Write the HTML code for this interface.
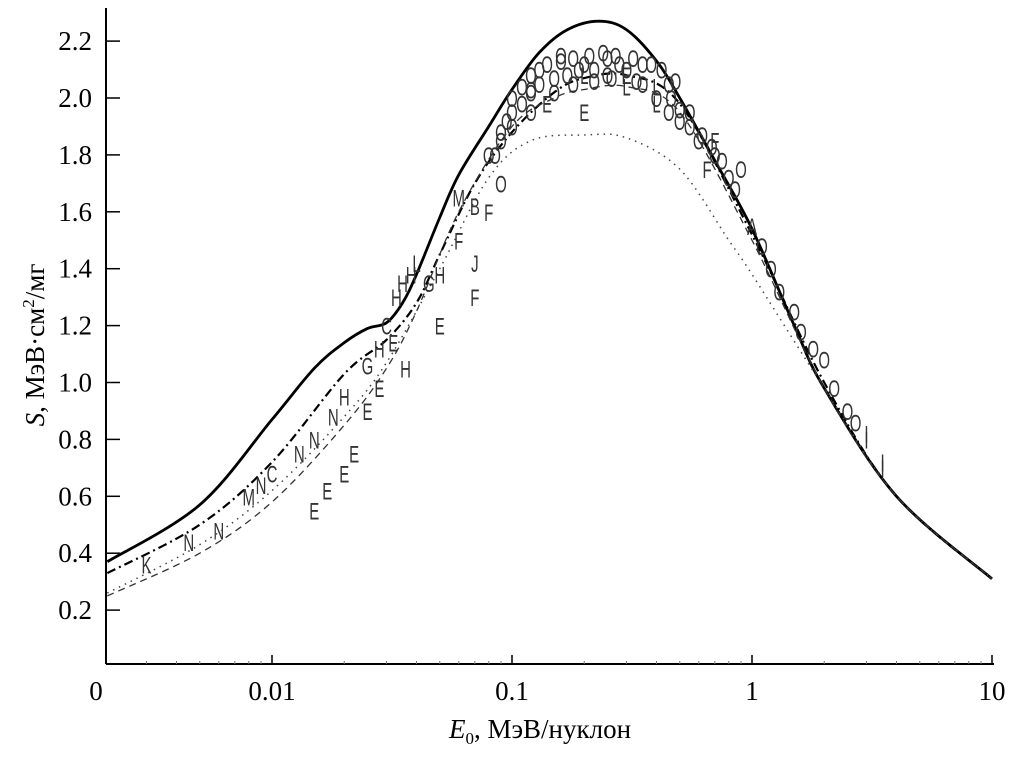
<!DOCTYPE html>
<html><head><meta charset="utf-8"><style>
body{margin:0;background:#fff}
svg{display:block;font-family:"Liberation Serif","DejaVu Serif",serif}
</style></head><body>
<svg id="c" width="1012" height="763" viewBox="0 0 1012 763">
<g id="axes"></g>
<g id="series"></g>
<g id="pts"></g>
<text x="540" y="738" font-size="27" text-anchor="middle"><tspan font-style="italic">E</tspan><tspan font-size="17" dy="6">0</tspan><tspan dy="-6">, МэВ/нуклон</tspan></text>
<text transform="translate(44,345) rotate(-90)" font-size="27" text-anchor="middle"><tspan font-style="italic">S</tspan>, МэВ·см<tspan font-size="17" dy="-10">2</tspan><tspan dy="10">/мг</tspan></text>
</svg>
<script>
const xTicks=[0.00206,0.01,0.1,1,10];
const xTickLabels=["0","0.01","0.1","1","10"];
const yTicks=[0.2,0.4,0.6,0.8,1.0,1.2,1.4,1.6,1.8,2.0,2.2];
const solidE=[0.00206,0.005,0.01,0.015,0.02,0.025,0.03,0.035,0.04,0.05,0.06,0.08,0.1,0.13,0.17,0.23,0.3,0.4,0.5,0.7,1,1.5,2,4,10];
const solidS=[0.37,0.57,0.87,1.05,1.14,1.19,1.21,1.28,1.38,1.58,1.73,1.9,2.03,2.16,2.24,2.27,2.24,2.13,2.0,1.78,1.54,1.2,0.98,0.6,0.31];
const dashDotE=[0.00206,0.005,0.01,0.02,0.03,0.04,0.05,0.07,0.1,0.15,0.2,0.3,0.5,1,2,4,10];
const dashDotS=[0.33,0.5,0.72,1.03,1.15,1.28,1.45,1.7,1.88,2.02,2.07,2.08,1.98,1.52,1.0,0.6,0.31];
const dashedE=[0.00206,0.005,0.01,0.02,0.03,0.04,0.06,0.1,0.15,0.2,0.3,0.5,1,2,4,10];
const dashedS=[0.25,0.4,0.58,0.85,1.05,1.25,1.6,1.9,2.0,2.03,2.04,1.95,1.5,0.98,0.6,0.31];
const dottedE=[0.00206,0.005,0.01,0.02,0.03,0.05,0.08,0.12,0.2,0.3,0.5,0.8,1,2,4,10];
const dottedS=[0.26,0.43,0.62,0.88,1.07,1.4,1.72,1.85,1.87,1.86,1.75,1.5,1.38,0.98,0.6,0.31];
const ptE=[0.003,0.0045,0.006,0.008,0.009,0.01,0.013,0.015,0.018,0.02,0.025,0.028,0.03,0.033,0.035,0.038,0.04,0.045,0.05,0.06,0.07,0.08,0.09,0.1,0.11,0.12,0.13,0.15,0.17,0.19,0.2,0.22,0.25,0.28,0.3,0.35,0.4,0.45,0.5,0.6,0.7,0.8,1,1.2,1.5,2,2.5,3,3.5,0.015,0.02,0.025,0.06,0.07,0.05,0.09,0.14,0.2,0.3,0.12,0.16,0.25,0.35,0.45,0.017,0.022,0.028,0.032,0.036,0.08,0.65,0.7,0.9,3.0,3.5,0.07,
0.1,0.11,0.12,0.13,0.14,0.16,0.18,0.21,0.24,0.27,0.32,0.38,0.42,0.48,0.09,0.1,0.12,0.15,0.18,0.22,0.26,0.33,0.4,0.46,0.55,0.62,0.68,0.75,0.85,1.1,1.3,1.6,1.8,2.2,2.7,0.085,0.095,0.2,0.3,0.4,0.5,0.55];
const ptS=[0.36,0.44,0.48,0.6,0.64,0.68,0.75,0.8,0.88,0.95,1.06,1.12,1.2,1.3,1.35,1.38,1.42,1.35,1.38,1.65,1.62,1.8,1.85,1.95,1.98,2.03,2.05,2.07,2.08,2.1,2.12,2.1,2.08,2.12,2.1,2.05,2.0,1.95,1.92,1.85,1.8,1.72,1.55,1.4,1.25,1.08,0.9,0.8,0.72,0.55,0.68,0.9,1.5,1.3,1.2,1.7,1.98,1.95,2.08,2.02,2.15,2.14,2.12,2.05,0.62,0.75,0.98,1.14,1.05,1.6,1.75,1.85,1.75,0.82,0.7,1.42,
2.0,2.04,2.08,2.1,2.12,2.13,2.14,2.15,2.16,2.15,2.14,2.12,2.1,2.06,1.88,1.9,1.95,2.02,2.05,2.06,2.07,2.06,2.04,2.0,1.95,1.87,1.83,1.78,1.68,1.48,1.32,1.18,1.12,0.98,0.86,1.8,1.92,2.08,2.04,1.98,1.96,1.9];
const ptL=["K","N","N","M","N","C","N","N","N","H","G","H","C","H","H","H","L","G","H","M","B","O","O","O","O","O","O","O","O","O","O","O","O","O","O","O","O","O","O","O","O","O","A","O","O","O","O","I","I","E","E","E","F","F","E","O","E","E","E","O","O","O","O","O","E","E","E","E","H","F","F","F","O","I","I","J",
"O","O","O","O","O","O","O","O","O","O","O","O","O","O","O","O","O","O","O","O","O","O","L","O","O","O","O","O","O","O","O","O","O","O","O","O","O","L","L","L","O","O"];
const X=e=>512+240*Math.log10(e/0.1);
const Y=s=>667-s*284.5;
const NS="http://www.w3.org/2000/svg";
function mk(t,a,p){const e=document.createElementNS(NS,t);for(const k in a)e.setAttribute(k,a[k]);p.appendChild(e);return e;}
const ax=document.getElementById('axes');
const l1=mk('line',{x1:106,y1:664,x2:994,y2:664,stroke:'#000','stroke-width':2},ax);


const l2=mk('line',{x1:106,y1:664,x2:106,y2:8,stroke:'#000','stroke-width':2},ax);


xTicks.forEach((v,i)=>{const x=X(v);
 if(i>0){const t=mk('line',{x1:x,y1:664,x2:x,y2:655,stroke:'#000','stroke-width':1.5},ax);
 
 }
 const tx=mk('text',{x:i==0?96:x,y:700,'font-size':27,'text-anchor':'middle'},ax);tx.textContent=xTickLabels[i];
 
 
});
for(let d=-3;d<1;d++)for(let m=2;m<10;m++){const e=m*Math.pow(10,d);if(e<0.00206||e>10)continue;
 const t=mk('line',{x1:X(e),y1:664,x2:X(e),y2:661,stroke:'#777','stroke-width':1},ax);
 
 }
yTicks.forEach(v=>{const y=Y(v);
 const t=mk('line',{x1:106,y1:y,x2:120,y2:y,stroke:'#000','stroke-width':1.5},ax);
 
 
 const tx=mk('text',{x:92,y:y+9,'font-size':27,'text-anchor':'end'},ax);tx.textContent=v.toFixed(1);
 
 
});
function smooth(E,S){const p=E.map((e,i)=>[X(e),Y(S[i])]);let d='M'+p[0];
 for(let i=0;i<p.length-1;i++){const p0=p[i-1]||p[i],p1=p[i],p2=p[i+1],p3=p[i+2]||p2;
 d+=' C'+(p1[0]+(p2[0]-p0[0])/6)+','+(p1[1]+(p2[1]-p0[1])/6)+' '+(p2[0]-(p3[0]-p1[0])/6)+','+(p2[1]-(p3[1]-p1[1])/6)+' '+p2;}return d;}
const pg=document.getElementById('pts');
ptE.forEach((e,i)=>{const t=mk('text',{x:0,y:0,'font-size':20,'text-anchor':'middle','font-family':'Liberation Sans,sans-serif',fill:'#333',transform:'translate('+X(e)+','+(Y(ptS[i])+9)+') scale(0.75,1.2)'},pg);t.textContent=ptL[i];
 
 });
const sg=document.getElementById('series');
const s1=mk('path',{d:smooth(solidE,solidS),fill:'none',stroke:'#000','stroke-width':2.8},sg);


const s2=mk('path',{d:smooth(dashDotE,dashDotS),fill:'none',stroke:'#000','stroke-width':2.2,'stroke-dasharray':'9,4,2,4'},sg);


const s3=mk('path',{d:smooth(dashedE,dashedS),fill:'none',stroke:'#333','stroke-width':1.3,'stroke-dasharray':'7,5'},sg);


const s4=mk('path',{d:smooth(dottedE,dottedS),fill:'none',stroke:'#444','stroke-width':1.5,'stroke-dasharray':'1.5,5'},sg);


</script>
</body></html>
